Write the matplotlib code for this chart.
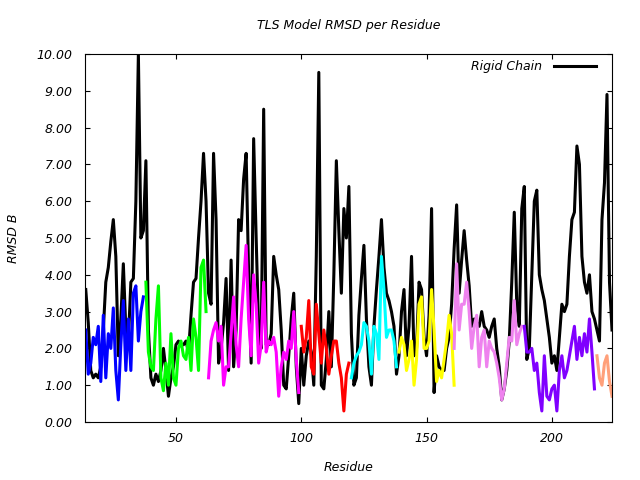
import numpy as np
import matplotlib
matplotlib.use("Agg")
import matplotlib.pyplot as plt

# rigid chain RMSD, residues 14..224
rigid_start = 14
rigid_rmsd = [
    3.6, 2.7, 1.4, 1.2, 1.3, 1.2, 1.5, 2.5, 3.8, 4.2, 4.9, 5.5, 4.5, 1.8, 2.8, 4.3,
    2.5, 2.2, 3.8, 3.9, 6.0, 10.0, 5.0, 5.2, 7.1, 2.5, 1.2, 1.0, 1.3, 1.1, 1.4, 2.0,
    1.4, 0.7, 1.2, 1.5, 2.1, 2.2, 2.1, 2.1, 2.2, 1.9, 2.9, 3.8, 3.9, 5.0, 6.0, 7.3,
    6.0, 3.5, 3.2, 7.3, 5.5, 1.6, 2.0, 2.7, 3.9, 1.4, 4.4, 1.5, 2.5, 5.5, 5.2, 6.6,
    7.3, 4.0, 1.6, 7.7, 5.0, 2.5, 2.0, 8.5, 2.1, 2.1, 2.4, 4.5, 4.0, 3.6, 2.5, 1.0,
    0.9, 1.8, 2.8, 3.5, 1.5, 0.5, 2.0, 1.0, 1.8, 2.2, 1.9, 1.0, 4.5, 9.5, 1.0, 0.9,
    1.7, 3.0, 1.5, 4.0, 7.1, 5.2, 3.5, 5.8, 5.0, 6.4, 2.4, 1.0, 1.2, 2.9, 3.9, 4.8,
    2.8, 1.5, 1.0, 2.6, 3.6, 4.5, 5.5, 4.2, 3.5, 3.3, 3.0, 2.6, 1.3, 1.8, 3.0, 3.6,
    1.8, 2.6, 4.5, 1.8, 2.0, 3.8, 3.6, 2.3, 1.8, 2.9, 5.8, 0.8, 1.8, 1.5, 1.4, 1.4,
    2.0, 2.3, 3.2, 4.7, 5.9, 3.5, 4.4, 5.2, 4.4, 3.7, 2.6, 2.8, 2.7, 2.6, 3.0, 2.6,
    2.5, 2.3, 2.6, 2.8, 2.0, 1.5, 0.6, 0.9, 1.4, 2.2, 3.8, 5.7, 3.2, 2.6, 5.8, 6.4,
    1.7, 2.0, 4.0, 6.0, 6.3, 4.0, 3.6, 3.3, 2.8, 2.3, 1.6, 1.8, 1.4, 2.3, 3.2, 3.0,
    3.2, 4.5, 5.5, 5.7, 7.5, 7.0, 4.5, 3.8, 3.5, 4.0, 3.0, 2.8, 2.5, 2.2, 5.5, 6.5,
    8.9, 3.8, 2.5,
]

# TLS groups: first residue, RMSD values, colour
group_starts = [14, 38, 63, 100, 120, 139, 161, 189, 218]
group_colors = ["#0000ff", "#00ff00", "#ff00ff", "#ff0000", "#00ffff",
                "#ffff00", "#ee82ee", "#8000ff", "#ffa07a"]
group_rmsd = [
    [2.5, 1.3, 1.6, 2.3, 2.1, 2.6, 1.1, 2.9, 1.2, 2.4, 2.0, 3.1, 1.4, 0.6, 2.1, 3.3,
     1.4, 2.8, 1.4, 3.5, 3.7, 2.2, 3.0, 3.4],
    [3.8, 1.9, 1.5, 1.4, 2.8, 3.7, 1.2, 0.85, 1.6, 1.0, 2.4, 1.2, 1.0, 2.0, 2.2, 1.8,
     1.7, 2.3, 1.4, 2.8, 2.3, 1.4, 4.2, 4.4, 3.0],
    [1.2, 2.2, 2.5, 2.7, 2.2, 2.6, 1.0, 1.5, 1.5, 2.4, 3.4, 2.1, 1.5, 2.8, 3.8, 4.8,
     2.8, 1.8, 4.0, 3.2, 1.6, 2.1, 3.8, 1.9, 2.2, 2.1, 2.3, 1.9, 0.7, 1.5, 1.9, 1.7,
     2.2, 2.0, 3.0, 1.7, 0.8],
    [2.6, 1.9, 2.3, 3.3, 1.5, 1.3, 3.2, 2.4, 1.6, 2.5, 2.0, 1.3, 1.8, 2.2, 2.2, 1.6,
     1.2, 0.3, 1.3, 1.6],
    [1.2, 1.6, 1.8, 1.9, 2.1, 2.7, 2.6, 2.2, 1.3, 2.6, 2.4, 1.7, 4.5, 3.6, 2.3, 2.5,
     2.5, 2.2, 1.5],
    [1.9, 2.3, 2.1, 1.4, 1.7, 2.2, 1.0, 1.7, 3.2, 3.4, 2.0, 2.0, 2.2, 3.6, 2.5, 1.1,
     1.4, 1.2, 1.7, 2.2, 2.9, 2.4, 1.0],
    [2.0, 4.3, 2.5, 3.2, 3.2, 3.8, 3.0, 2.0, 2.6, 2.9, 1.5, 2.3, 2.5, 1.5, 2.2, 2.0,
     1.9, 1.6, 1.2, 0.6, 0.9, 1.6, 2.3, 2.2, 3.3, 2.1, 2.4, 2.6],
    [2.6, 1.9, 1.9, 2.0, 1.4, 1.6, 0.8, 0.3, 1.8, 0.7, 0.6, 0.9, 1.0, 0.3, 1.4, 1.8,
     1.2, 1.4, 1.8, 2.2, 2.6, 1.7, 2.3, 1.8, 2.4, 1.9, 2.8, 1.9, 0.9],
    [1.8, 1.2, 1.0, 1.6, 1.8, 1.1, 0.7],
]

x_ticks = [50, 100, 150, 200]
y_ticks = [0, 1, 2, 3, 4, 5, 6, 7, 8, 9, 10]

plt.rcParams['font.family'] = ['DejaVu Sans']
plt.rcParams['font.style'] = 'italic'
plt.rcParams['font.size'] = 9

fig = plt.figure(figsize=(6.4, 4.8), dpi=100)
ax = fig.add_axes([85 / 640, 1 - 422 / 480, 527 / 640, 368 / 480])

lw = 2.2
res = np.arange(rigid_start, rigid_start + len(rigid_rmsd))
ax.plot(res, rigid_rmsd, color="black", lw=lw, label="Rigid Chain")

for start, vals, col in zip(group_starts, group_rmsd, group_colors):
    r = np.arange(start, start + len(vals))
    ax.plot(r, vals, color=col, lw=lw)

ax.set_xlim(13.7, 224)
ax.set_ylim(0, 10)
ax.set_xticks(x_ticks)
ax.set_yticks(y_ticks)
ax.set_yticklabels(["%.2f" % v for v in y_ticks])
ax.tick_params(direction="in", length=3.5, width=0.8, top=True, right=True,
               labelsize=9, pad=7)
ax.tick_params(axis="y", pad=9)
for s in ax.spines.values():
    s.set_linewidth(0.8)

ax.set_title("TLS Model RMSD per Residue", fontsize=9, pad=18)
ax.set_xlabel("Residue", fontsize=9, labelpad=12)
ax.set_ylabel("RMSD B", fontsize=9, labelpad=12)

ax.legend(loc="center right", bbox_to_anchor=((596 - 85) / 527, (422 - 67) / 368),
          frameon=False, markerfirst=False, handlelength=3.4, handletextpad=0.9,
          borderpad=0, borderaxespad=0, fontsize=9)

plt.savefig("out.png", dpi=100)
